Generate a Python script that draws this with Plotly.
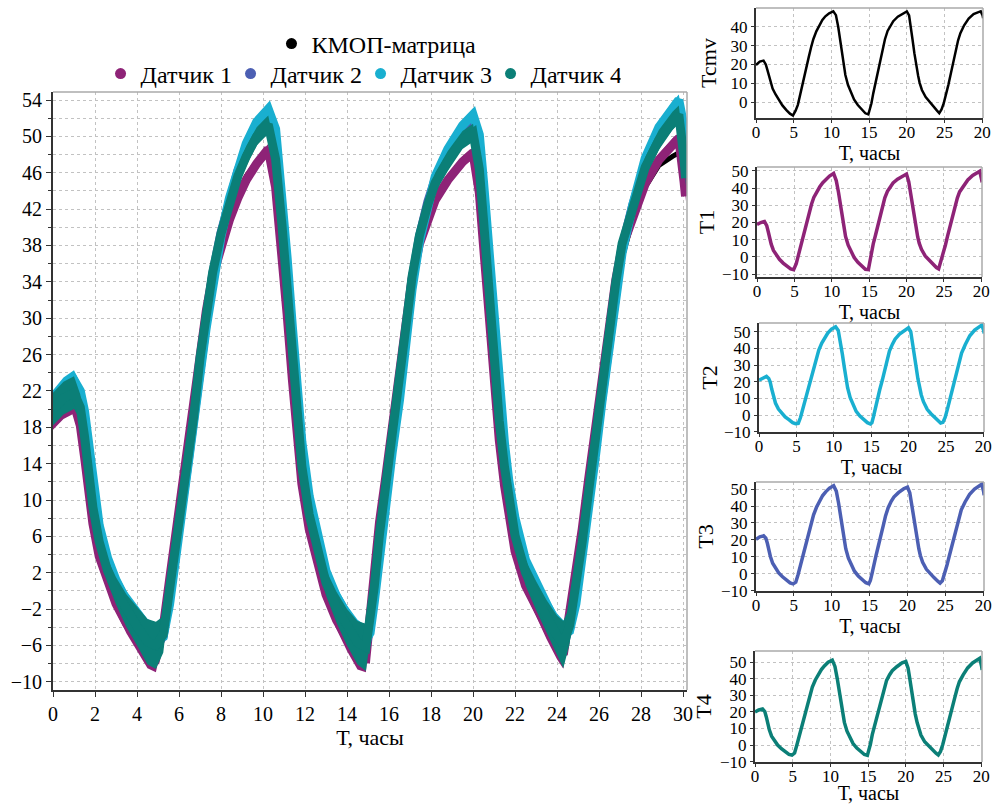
import plotly.graph_objects as go

# time grid (hours) and readings for each channel
hours = [
    0, 0.5, 1.0, 1.3, 1.5, 1.7, 1.9, 2.2, 2.6, 3.0,
    3.5, 4.0, 4.5, 4.9, 5.25, 5.55, 5.8, 6.05, 6.4, 6.7,
    7.0, 7.3, 7.6, 8.0, 8.4, 8.8, 9.2, 9.7, 10.25, 10.6,
    10.9, 11.15, 11.4, 11.6, 11.85, 12.2, 12.6, 13.0, 13.5, 14.0,
    14.5, 14.9, 15.1, 15.3, 15.55, 15.85, 16.15, 16.5, 16.8, 17.1,
    17.45, 17.85, 18.2, 18.8, 19.5, 20.0, 20.3, 20.5, 20.75, 21.0,
    21.25, 21.5, 21.7, 22.0, 22.5, 23.0, 23.5, 24.0, 24.3, 24.6,
    24.9, 25.2, 25.5, 25.85, 26.15, 26.5, 26.8, 27.1, 27.6, 28.2,
    28.85, 29.5, 29.8, 30.05, 30.12,
]

cmos = [
    19.7, 21.5, 22.0, 20.0, 17.2, 14.0, 10.6, 7.2, 4.0, 1.4,
    -1.8, -4.2, -6.2, -7.2, -4.6, -1.5, 2.6, 7.0, 12.6, 17.6,
    24.0, 29.0, 33.4, 37.6, 40.8, 43.6, 45.6, 47.2, 48.2, 46.2,
    40.0, 33.0, 26.0, 20.0, 14.4, 9.0, 4.8, 1.4, -1.6, -3.8,
    -6.0, -6.6, -3.8, -0.8, 4.6, 10.0, 15.6, 21.4, 28.0, 33.4,
    37.8, 41.0, 43.0, 45.4, 47.0, 48.2, 46.0, 41.0, 33.4, 26.0,
    19.2, 14.0, 10.2, 6.4, 2.6, 0.0, -2.4, -4.6, -5.9, -4.0,
    -0.6, 3.6, 9.0, 15.4, 21.0, 26.8, 32.8, 36.6, 40.8, 44.4,
    46.8, 47.8, 48.2, 46.0, 44.5,
]

sensor1 = [
    18.8, 20.0, 20.6, 18.2, 14.8, 10.6, 7.4, 3.8, 0.8, -1.4,
    -3.6, -5.4, -7.0, -7.4, -4.0, 1.2, 5.6, 10.0, 15.6, 20.6,
    26.6, 30.8, 34.6, 38.0, 40.8, 43.2, 45.2, 47.0, 48.6, 44.4,
    37.6, 30.4, 23.2, 17.2, 11.8, 6.8, 2.8, -0.4, -3.2, -5.4,
    -7.2, -7.4, -2.6, 1.8, 7.6, 12.6, 18.2, 23.8, 29.6, 34.4,
    38.2, 41.0, 43.0, 45.2, 47.2, 48.2, 43.8, 38.0, 30.4, 23.2,
    16.6, 11.6, 8.0, 4.4, 0.6, -1.8, -4.2, -6.2, -7.0, -2.8,
    1.6, 6.8, 12.2, 18.6, 24.2, 29.6, 34.2, 37.8, 41.2, 44.8,
    47.4, 49.2, 49.8, 45.0, 43.4,
]

sensor2 = [
    20.4, 21.8, 22.4, 21.0, 18.0, 13.8, 10.2, 6.2, 2.8, 0.5,
    -1.8, -3.6, -5.4, -6.0, -5.0, -0.6, 3.6, 8.0, 13.6, 18.6,
    25.0, 29.9, 34.8, 39.4, 43.2, 46.2, 48.4, 50.6, 52.0, 48.8,
    41.8, 34.4, 27.2, 20.8, 14.8, 9.2, 5.0, 1.5, -1.3, -3.5,
    -5.3, -6.0, -4.0, -0.2, 5.6, 10.8, 16.4, 22.2, 28.4, 34.2,
    39.0, 42.8, 45.3, 47.9, 50.2, 51.2, 47.8, 42.4, 34.6, 27.0,
    20.0, 14.6, 10.8, 6.8, 2.6, 0.0, -2.3, -4.4, -5.5, -4.2,
    -0.2, 4.8, 10.2, 16.6, 22.4, 28.2, 33.4, 37.8, 42.4, 46.9,
    50.0, 52.2, 52.9, 48.6, 46.4,
]

sensor3 = [
    21.0, 22.4, 23.2, 22.0, 19.8, 15.6, 11.6, 7.2, 3.6, 1.2,
    -1.1, -2.8, -4.6, -5.2, -5.0, -1.5, 2.6, 6.9, 12.4, 17.5,
    23.8, 29.0, 34.0, 39.0, 43.2, 46.6, 49.2, 51.6, 53.0, 50.8,
    44.0, 36.6, 29.0, 22.6, 16.4, 10.4, 5.8, 2.2, -0.6, -2.8,
    -4.6, -5.4, -4.6, -1.2, 4.2, 9.6, 15.2, 21.0, 27.2, 33.2,
    38.4, 42.6, 45.6, 48.6, 51.2, 52.4, 50.2, 45.0, 37.0, 29.4,
    22.0, 16.2, 12.2, 8.0, 3.4, 0.8, -1.6, -3.8, -4.8, -4.4,
    -1.4, 3.4, 8.8, 15.2, 21.0, 27.0, 32.4, 37.2, 42.4, 47.6,
    51.0, 53.2, 54.0, 51.0, 49.0,
]

sensor4 = [
    20.0, 21.2, 21.8, 20.2, 17.0, 12.8, 9.2, 5.4, 2.2, 0.0,
    -2.2, -3.9, -5.6, -6.0, -4.8, 0.0, 4.3, 8.7, 14.2, 19.2,
    25.6, 30.3, 35.0, 39.3, 42.8, 45.6, 47.8, 50.0, 51.3, 47.5,
    40.3, 33.0, 25.8, 19.5, 13.7, 8.4, 4.3, 0.9, -1.8, -4.0,
    -5.7, -6.2, -3.5, 0.5, 6.3, 11.4, 17.0, 22.8, 29.0, 34.6,
    39.1, 42.5, 44.9, 47.3, 49.6, 50.4, 46.4, 40.8, 33.0, 25.6,
    18.7, 13.6, 9.8, 6.1, 2.0, -0.5, -2.8, -4.9, -5.9, -3.8,
    0.4, 5.4, 10.9, 17.3, 23.0, 28.8, 34.0, 38.2, 42.4, 46.6,
    49.6, 51.7, 52.4, 47.5, 45.4,
]

# half-width of the sensor scatter around each reading (Датчик 4)
scatter = [
    1.8, 1.8, 1.8, 1.4, 1.0, 0.8, 0.8, 1.0, 1.3, 1.5,
    1.8, 2.1, 2.5, 2.6, 2.0, 1.0, 0.8, 0.6, 0.6, 0.6,
    0.6, 0.8, 0.9, 1.0, 1.1, 1.1, 1.1, 1.0, 1.0, 0.9,
    0.8, 0.6, 0.6, 0.6, 0.8, 1.0, 1.2, 1.4, 1.7, 2.0,
    2.4, 2.6, 2.0, 1.0, 0.8, 0.6, 0.6, 0.6, 0.6, 0.8,
    0.9, 1.0, 1.1, 1.1, 1.0, 1.0, 0.9, 0.8, 0.6, 0.6,
    0.6, 0.8, 1.0, 1.2, 1.4, 1.6, 1.8, 2.2, 2.6, 2.0,
    1.0, 0.6, 0.6, 0.6, 0.6, 0.6, 0.8, 0.9, 1.0, 1.1,
    1.1, 1.0, 1.0, 0.9, 0.9,
]
scatter_scale = [0, 0.6, 0.6, 0.6, 1.0]

names = ["КМОП-матрица", "Датчик 1", "Датчик 2", "Датчик 3", "Датчик 4"]
colors = ["#000000", "#8e2377", "#4c5fb3", "#19afd0", "#0b7f77"]
series = [cmos, sensor1, sensor2, sensor3, sensor4]

main_xticks = list(range(0, 31, 2))
main_yticks = list(range(-10, 55, 4))
small_xticks = [0, 5, 10, 15, 20, 25, 30]
small_xlabels = ["0", "5", "10", "15", "20", "25", "20"]
small_titles = ["Tcmv", "T1", "T2", "T3", "T4"]
small_series = [0, 1, 3, 2, 4]  # which channel goes in each small panel

FONT = "Liberation Serif, Times New Roman, serif"
GRID = "#c2c2c2"
W, H = 996, 804

fig = go.Figure()

# main panel: scatter band, then a thick centre line; teal ends up on top
for i, (name, col, vals) in enumerate(zip(names, colors, series)):
    if scatter_scale[i] > 0:
        lo = [v - s * scatter_scale[i] for v, s in zip(vals, scatter)]
        hi = [v + s * scatter_scale[i] for v, s in zip(vals, scatter)]
        fig.add_trace(go.Scatter(
            x=hours + hours[::-1], y=lo + hi[::-1], fill="toself",
            fillcolor=col, line=dict(width=0), mode="lines",
            showlegend=False, hoverinfo="skip", xaxis="x", yaxis="y"))
    fig.add_trace(go.Scatter(
        x=hours, y=vals, mode="lines",
        line=dict(color=col, width=5 if i == 0 else 9),
        showlegend=False, xaxis="x", yaxis="y"))

# legend entries
for i, (name, col) in enumerate(zip(names, colors)):
    fig.add_trace(go.Scatter(
        x=[None], y=[None], mode="markers", name=name,
        marker=dict(color=col, size=11),
        legend="legend" if i == 0 else "legend2"))

# small panels
for k, idx in enumerate(small_series):
    ax = str(k + 2)
    fig.add_trace(go.Scatter(
        x=hours, y=series[idx], mode="lines",
        line=dict(color=colors[idx], width=2.5 if idx == 0 else 3.5),
        showlegend=False, xaxis="x" + ax, yaxis="y" + ax))

layout = dict(
    width=W, height=H, margin=dict(l=0, r=0, t=0, b=0),
    paper_bgcolor="white", plot_bgcolor="white",
    font=dict(family=FONT, color="black"),
    legend=dict(orientation="h", x=0.378, xanchor="center", y=1 - 44 / H,
                yanchor="middle", font=dict(size=24), itemwidth=30,
                bgcolor="rgba(0,0,0,0)"),
    legend2=dict(orientation="h", x=0.362, xanchor="center", y=1 - 74 / H,
                 yanchor="middle", font=dict(size=24), itemwidth=30,
                 entrywidth=85, entrywidthmode="pixels",
                 bgcolor="rgba(0,0,0,0)"),
    xaxis=dict(
        domain=[53 / W, 687 / W], range=[0, 30.19], anchor="y", automargin=False,
        tickvals=main_xticks, ticks="outside", ticklen=5, tickcolor="#333",
        showgrid=True, gridcolor=GRID, griddash="dot", gridwidth=1,
        showline=True, linecolor="#333", linewidth=2, zeroline=False,
        tickfont=dict(size=20),
        title=dict(text="Т, часы", font=dict(size=22), standoff=0)),
    yaxis=dict(
        domain=[114 / H, 712 / H], range=[-10.9, 54.88], anchor="x", automargin=False,
        tickvals=main_yticks, ticks="outside", ticklen=5, tickcolor="#333",
        showgrid=True, gridcolor=GRID, griddash="dot", gridwidth=1,
        minor=dict(dtick=2, tick0=0, showgrid=True, gridcolor=GRID,
                   griddash="dot", ticks="outside", ticklen=3, tickcolor="#333"),
        showline=True, linecolor="#333", linewidth=2, zeroline=False,
        tickfont=dict(size=20)),
)

# panel boxes in pixels: (left, right, top, bottom) and y ranges
small_boxes = [(756, 983, 8, 118), (757, 982, 167, 277), (759, 984, 323, 432),
               (756, 984, 482, 591), (755, 982, 651, 762)]
small_yranges = [[-8.5, 50], [-11.7, 52.3], [-10.2, 55.3], [-10.2, 54.2], [-10.2, 56.8]]
small_yticks = [[0, 10, 20, 30, 40]] + [[-10, 0, 10, 20, 30, 40, 50]] * 4
small_title_gap = [8, 1, 0, 1, 2]

shapes = []
for k, (l, r, t, b) in enumerate(small_boxes):
    ax = str(k + 2)
    layout["xaxis" + ax] = dict(
        domain=[l / W, r / W], range=[0, 30.1], anchor="y" + ax, automargin=False,
        tickvals=small_xticks, ticktext=small_xlabels,
        ticks="outside", ticklen=3, tickcolor="#333", ticklabelstandoff=-5,
        showgrid=True, gridcolor=GRID, griddash="dot", gridwidth=1,
        showline=True, linecolor="#333", linewidth=2, zeroline=False,
        tickfont=dict(size=17),
        title=dict(text="Т, часы", font=dict(size=20), standoff=0))
    layout["yaxis" + ax] = dict(
        domain=[1 - b / H, 1 - t / H], range=small_yranges[k], anchor="x" + ax,
        automargin=False,
        tickvals=small_yticks[k], ticks="outside", ticklen=3, tickcolor="#333",
        showgrid=True, gridcolor=GRID, griddash="dot", gridwidth=1,
        showline=True, linecolor="#333", linewidth=2, zeroline=False,
        tickfont=dict(size=17),
        title=dict(text=small_titles[k], font=dict(size=22), standoff=small_title_gap[k]))

# light top/right frame lines
for xa, ya in [("x", "y")] + [("x" + str(k + 2), "y" + str(k + 2)) for k in range(5)]:
    shapes.append(dict(type="line", xref=xa + " domain", yref=ya + " domain",
                       x0=0, x1=1, y0=1, y1=1, line=dict(color="#aaaaaa", width=1.5)))
    shapes.append(dict(type="line", xref=xa + " domain", yref=ya + " domain",
                       x0=1, x1=1, y0=0, y1=1, line=dict(color="#aaaaaa", width=1.5)))
layout["shapes"] = shapes

fig.update_layout(**layout)
fig.write_html("out.html", config={"displayModeBar": False},
               post_script="document.body.style.margin = '0px';")
